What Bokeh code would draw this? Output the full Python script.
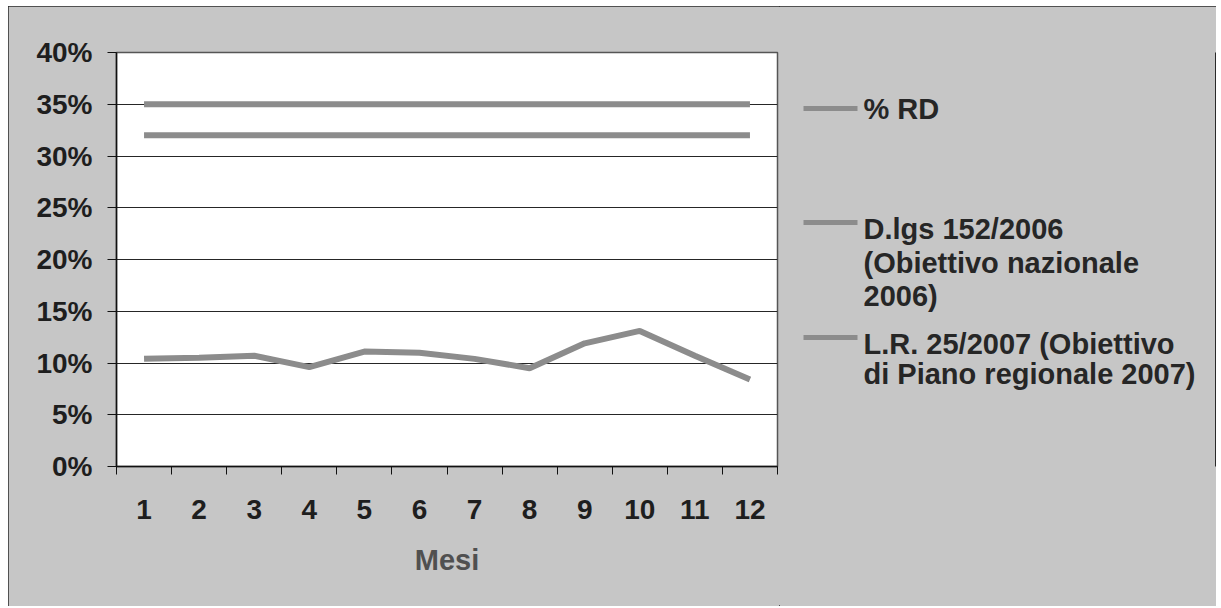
from bokeh.plotting import figure
from bokeh.layouts import row
from bokeh.models import Range1d, FixedTicker, NumeralTickFormatter, LinearAxis
from bokeh.core.properties import value
from bokeh.embed import file_html
from bokeh.resources import INLINE

# ---- data ----
months = [1, 2, 3, 4, 5, 6, 7, 8, 9, 10, 11, 12]
rd_pct = [10.4, 10.5, 10.7, 9.6, 11.1, 11.0, 10.4, 9.5, 11.9, 13.1, 10.7, 8.4]
dlgs_target = [35] * 12
lr_target = [32] * 12
y_ticks = [0.0, 0.05, 0.10, 0.15, 0.20, 0.25, 0.30, 0.35, 0.40]
legend_labels = [["% RD"],
                 ["D.lgs 152/2006", "(Obiettivo nazionale", "2006)"],
                 ["L.R. 25/2007 (Obiettivo", "di Piano regionale 2007)"]]

rd = [v / 100 for v in rd_pct]
dlgs = [v / 100 for v in dlgs_target]
lr = [v / 100 for v in lr_target]

FONT = "Liberation Sans"
LINE_C = "#8c8c8c"
BG = "#c6c6c6"
TXT = "#1e1e1e"

# ---- main chart ----
p = figure(width=771, height=600, output_backend="svg", toolbar_location=None,
           x_range=Range1d(0.5, 12.5), y_range=Range1d(0, 0.40),
           min_border_left=108, min_border_top=46, min_border_right=2,
           min_border_bottom=140, x_axis_type=None)
p.border_fill_color = BG
p.background_fill_color = "white"
p.outline_line_color = "#555555"
p.outline_line_width = 1.5

r_rd = p.line(months, rd, line_color=LINE_C, line_width=6)
r_dlgs = p.line(months, dlgs, line_color=LINE_C, line_width=6)
r_lr = p.line(months, lr, line_color=LINE_C, line_width=6)

xa = LinearAxis(ticker=FixedTicker(ticks=months,
                                   minor_ticks=[m - 0.5 for m in months] + [months[-1] + 0.5]))
xa.major_tick_out = 0
xa.major_tick_in = 0
xa.minor_tick_out = 8
xa.minor_tick_in = 0
xa.minor_tick_line_color = "#111111"
xa.axis_line_color = "#111111"
xa.axis_line_width = 1.5
xa.major_label_text_font = FONT
xa.major_label_text_font_style = "bold"
xa.major_label_text_font_size = "28px"
xa.major_label_text_color = TXT
xa.major_label_standoff = 25
xa.axis_label = "Mesi"
xa.axis_label_text_font = FONT
xa.axis_label_text_font_style = "bold"
xa.axis_label_text_font_size = "29px"
xa.axis_label_text_color = "#505050"
xa.axis_label_standoff = 22
p.add_layout(xa, "below")

ya = p.yaxis[0]
ya.ticker = FixedTicker(ticks=y_ticks)
ya.formatter = NumeralTickFormatter(format="0%")
ya.major_tick_out = 9
ya.major_tick_in = 0
ya.minor_tick_out = 0
ya.minor_tick_in = 0
ya.major_tick_line_color = "#111111"
ya.axis_line_color = "#111111"
ya.axis_line_width = 1.5
ya.major_label_text_font = FONT
ya.major_label_text_font_style = "bold"
ya.major_label_text_font_size = "28px"
ya.major_label_text_color = TXT
ya.major_label_standoff = 15

p.xgrid.grid_line_color = None
p.ygrid.ticker = FixedTicker(ticks=y_ticks)
p.ygrid.grid_line_color = "#262626"
p.ygrid.grid_line_width = 1

# ---- legend panel (its frame is aligned with the chart's frame: page y 52..466) ----
lg = figure(width=437, height=600, output_backend="svg", toolbar_location=None,
            x_range=Range1d(779, 1216), y_range=Range1d(466, 52),
            min_border=0, x_axis_type=None, y_axis_type=None)
lg.border_fill_color = BG
lg.background_fill_alpha = 0
lg.outline_line_color = None
lg.grid.grid_line_color = None

sample_y = [108, 222, 337]
text_y = [[108], [228, 262, 295], [343, 373]]
for sy, lines, tys in zip(sample_y, legend_labels, text_y):
    lg.line([803, 857], [sy, sy], line_color=LINE_C, line_width=5)
    lg.text(x=[863] * len(lines), y=tys, text=lines, text_font=value(FONT),
            text_font_style="bold", text_font_size="29px", text_color="#262626",
            text_baseline="middle", text_align="left")

lay = row(p, lg, spacing=0)
lay.margin = (6, 5, 2, 8)
lay.styles = {"outline": "1.5px solid #2a2a2a", "outline-offset": "-1px",
              "background-color": BG}

open("out.html", "w").write(file_html(lay, INLINE))
